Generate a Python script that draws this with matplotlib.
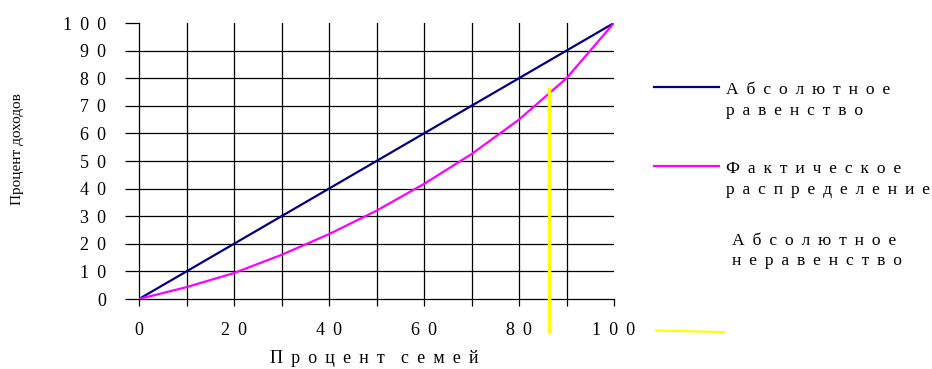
import matplotlib.pyplot as plt
import numpy as np

plt.rcParams['font.family'] = ['Liberation Serif', 'DejaVu Serif']

# Lorenz curve data (percent of families vs percent of income)
families = [0, 10, 20, 30, 40, 50, 60, 70, 80, 90, 100]
equality = [0, 10, 20, 30, 40, 50, 60, 70, 80, 90, 100]
actual = [0, 4.3, 9.4, 16, 23.5, 32, 41.7, 52.5, 65, 80, 100]

# yellow marker line
marker_x = 86.3
marker_y = [-11.5, 76]

x_ticks = [0, 10, 20, 30, 40, 50, 60, 70, 80, 90, 100]
y_ticks = [0, 10, 20, 30, 40, 50, 60, 70, 80, 90, 100]

LETTER_GAP = " \u2009"
WORD_GAP = "\u2009 \u2009 "


def spaced(s):
    # spread letters apart like the old chart style, words get a wider gap
    return WORD_GAP.join(LETTER_GAP.join(w) for w in s.split())


fig = plt.figure(figsize=(9.32, 3.69), dpi=100)
ax = fig.add_axes([139 / 932, 1 - 299 / 369, 475 / 932, 276 / 369])

for v in x_ticks[1:-1]:
    ax.axvline(v, color='black', lw=0.9, zorder=1)
for v in y_ticks[1:-1]:
    ax.axhline(v, color='black', lw=0.9, zorder=1)

ax.plot(families, equality, color='#000080', lw=1.6, zorder=3)
ax.plot(families, actual, color='#ff00ff', lw=1.6, zorder=3)
ax.plot([marker_x, marker_x], marker_y, color='#ffff00', lw=2.5, zorder=4, clip_on=False)

ax.set_xlim(0, 100)
ax.set_ylim(0, 100)
ax.spines['top'].set_visible(False)
ax.spines['right'].set_visible(False)
ax.spines['left'].set_linewidth(0.9)
ax.spines['bottom'].set_linewidth(0.9)

ax.set_xticks(x_ticks)
ax.set_xticklabels([spaced(str(v)) if v % 20 == 0 else '' for v in x_ticks])
ax.set_yticks(y_ticks)
ax.set_yticklabels([spaced(str(v)) for v in y_ticks])
ax.tick_params(axis='x', length=5, width=0.9, pad=11.5, labelsize=13)
ax.tick_params(axis='y', length=10, width=0.9, pad=13.5, labelsize=13)

fig.text(18 / 932, 1 - 149 / 369, 'Процент доходов', rotation=90,
         ha='center', va='center', fontsize=11)
fig.text(374 / 932, 1 - 363 / 369, spaced('Процент семей'),
         ha='center', va='baseline', fontsize=13)

# legend drawn by hand
fig.add_artist(plt.Line2D([654 / 932, 719 / 932], [1 - 87 / 369] * 2,
                          color='#000080', lw=1.6))
fig.add_artist(plt.Line2D([654 / 932, 719 / 932], [1 - 166 / 369] * 2,
                          color='#ff00ff', lw=1.6))
fig.add_artist(plt.Line2D([656 / 932, 724 / 932], [1 - 330.5 / 369, 1 - 332 / 369],
                          color='#ffff00', lw=1.5))

legend_lines = [
    (726, 94, 'Абсолютное'),
    (726, 115, 'равенство'),
    (726, 173, 'Фактическое'),
    (726, 194, 'распределение'),
    (732, 245, 'Абсолютное'),
    (732, 265, 'неравенство'),
]
for x, y, s in legend_lines:
    fig.text(x / 932, 1 - y / 369, spaced(s), ha='left', va='baseline', fontsize=12.6)

fig.savefig('out.png', dpi=100)
